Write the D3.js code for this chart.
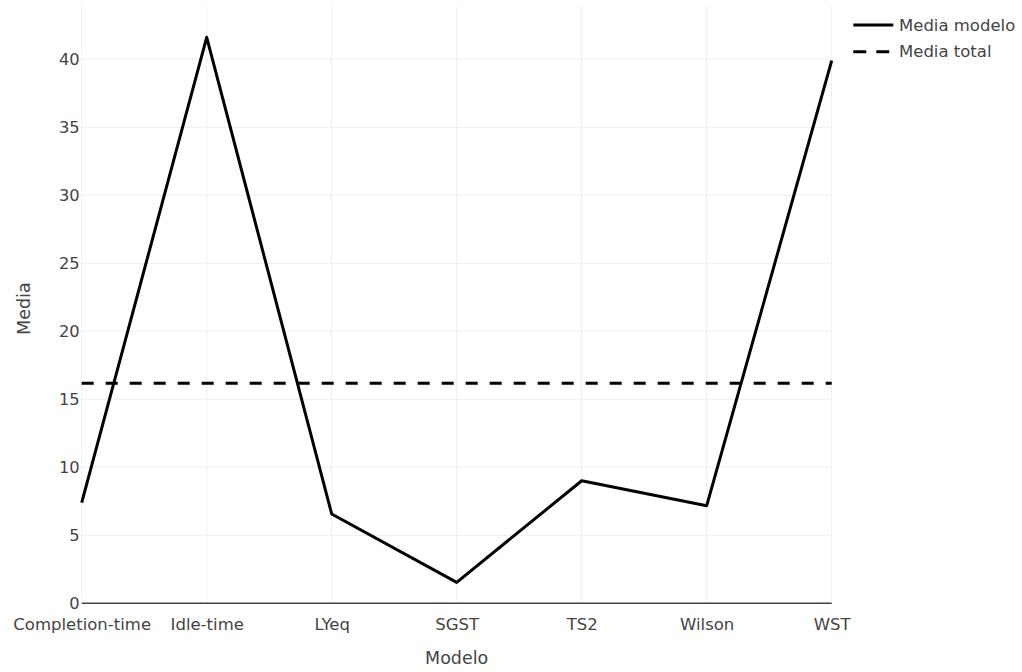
<!DOCTYPE html>
<html>
<head>
<meta charset="utf-8">
<script src="https://cdn.jsdelivr.net/npm/d3@7"></script>
<style>
  html, body { margin: 0; padding: 0; background: #fff; }
  svg { display: block; }
  text { font-family: "DejaVu Sans", Verdana, sans-serif; fill: #444; }
</style>
</head>
<body>
<svg id="chart" width="1022" height="672"></svg>
<script>
const categories = ["Completion-time", "Idle-time", "LYeq", "SGST", "TS2", "Wilson", "WST"];
const mediaModelo = [7.40, 41.62, 6.57, 1.54, 9.01, 7.18, 39.9];
const mediaTotal = [16.18, 16.18, 16.18, 16.18, 16.18, 16.18, 16.18];
const yTicks = [0, 5, 10, 15, 20, 25, 30, 35, 40];
const legendLabels = ["Media modelo", "Media total"];
const xTitle = "Modelo";
const yTitle = "Media";

const svg = d3.select("#chart");
const pLeft = 81.7, pRight = 831.7, pTop = 6, pBottom = 603.3;

const x = d3.scalePoint().domain(categories).range([pLeft, pRight]).padding(0);
const y = d3.scaleLinear().domain([0, 43.92]).range([pBottom, pTop]);

// gridlines
const grid = svg.append("g");
grid.selectAll("line.h").data(yTicks.filter(d => d !== 0)).join("line")
  .attr("class", "h")
  .attr("x1", pLeft).attr("x2", pRight)
  .attr("y1", d => y(d)).attr("y2", d => y(d))
  .attr("stroke", "#eeeeee").attr("stroke-width", 1);
grid.selectAll("line.v").data(categories).join("line")
  .attr("class", "v")
  .attr("x1", d => x(d)).attr("x2", d => x(d))
  .attr("y1", pTop).attr("y2", pBottom)
  .attr("stroke", "#eeeeee").attr("stroke-width", 1);

// zero line
svg.append("line")
  .attr("x1", pLeft).attr("x2", pRight)
  .attr("y1", y(0)).attr("y2", y(0))
  .attr("stroke", "#444").attr("stroke-width", 1.5);

// y tick labels
const yAxis = d3.axisLeft(y).tickValues(yTicks).tickSize(0).tickPadding(2);
const gy = svg.append("g").attr("transform", `translate(${pLeft},0)`).call(yAxis);
gy.select(".domain").remove();
gy.selectAll("text").style("font-size", "16.3px").attr("fill", "#444")
  .style("font-family", '"DejaVu Sans", Verdana, sans-serif');

// x tick labels
const xAxis = d3.axisBottom(x).tickSize(0).tickPadding(0);
const gx = svg.append("g").attr("transform", `translate(0,${pBottom})`).call(xAxis);
gx.select(".domain").remove();
gx.selectAll("text").style("font-size", "16.5px").attr("fill", "#444")
  .attr("dy", null).attr("y", 27)
  .style("font-family", '"DejaVu Sans", Verdana, sans-serif');

// lines
const line = d3.line().x((d, i) => x(categories[i])).y(d => y(d));
svg.append("path").datum(mediaTotal)
  .attr("d", line).attr("fill", "none")
  .attr("stroke", "#000").attr("stroke-width", 3)
  .attr("stroke-dasharray", "12,12");
svg.append("path").datum(mediaModelo)
  .attr("d", line).attr("fill", "none")
  .attr("stroke", "#000").attr("stroke-width", 3)
  .attr("stroke-linejoin", "round");

// axis titles
svg.append("text").attr("x", (pLeft + pRight) / 2).attr("y", 664)
  .attr("text-anchor", "middle").style("font-size", "17.5px").text(xTitle);
svg.append("text")
  .attr("transform", `translate(30,${(pTop + pBottom) / 2 + 4}) rotate(-90)`)
  .attr("text-anchor", "middle").style("font-size", "17.5px").text(yTitle);

// legend
const legend = svg.append("g");
const rows = [25, 51.7];
legendLabels.forEach((lab, i) => {
  legend.append("line")
    .attr("x1", 853.3).attr("x2", 893.3)
    .attr("y1", rows[i]).attr("y2", rows[i])
    .attr("stroke", "#000").attr("stroke-width", 3)
    .attr("stroke-dasharray", i === 1 ? "13,10" : null);
  legend.append("text")
    .attr("x", 899).attr("y", rows[i])
    .attr("dominant-baseline", "central")
    .style("font-size", "16.5px").text(lab);
});
</script>
</body>
</html>
